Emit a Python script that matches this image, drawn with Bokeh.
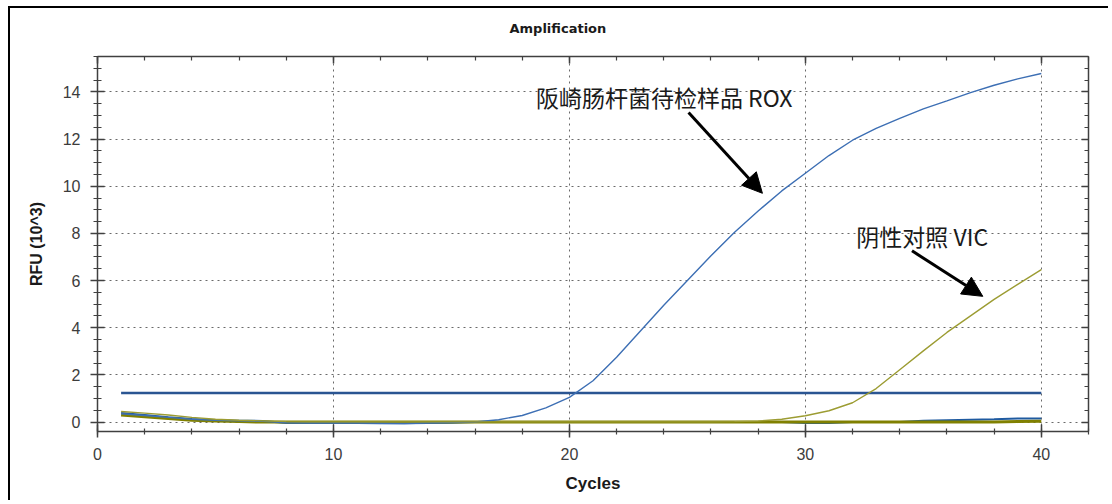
from bokeh.plotting import figure
from bokeh.models import (Range1d, LinearAxis, SingleIntervalTicker, Arrow, NormalHead,
                          Label, CustomLabelingPolicy)
from bokeh.embed import file_html
from bokeh.resources import INLINE

# ---- data ----
cycles = list(range(1, 41))

rox_sample = [0.35, 0.28, 0.20, 0.12, 0.08, 0.05, 0.03, -0.03, -0.04, -0.04,
              -0.04, -0.05, -0.06, -0.04, -0.02, 0.00, 0.10, 0.28, 0.60, 1.05,
              1.75, 2.75, 3.85, 4.95, 6.00, 7.05, 8.05, 8.95, 9.80, 10.55,
              11.30, 11.95, 12.45, 12.88, 13.28, 13.62, 13.97, 14.28, 14.55, 14.78]

vic_control = [0.45, 0.38, 0.30, 0.20, 0.12, 0.08, 0.05, 0.02, 0.01, 0.01,
               0.01, 0.01, 0.01, 0.01, 0.01, 0.01, 0.01, 0.01, 0.01, 0.01,
               0.01, 0.01, 0.01, 0.01, 0.01, 0.01, 0.02, 0.04, 0.12, 0.27,
               0.48, 0.82, 1.42, 2.22, 3.02, 3.80, 4.50, 5.20, 5.84, 6.46]

rox_baseline = [0.38, 0.30, 0.20, 0.13, 0.08, 0.06, 0.05, -0.04, -0.04, -0.04,
                -0.04, -0.05, -0.05, -0.04, -0.03, 0.00, 0.00, 0.00, 0.00, 0.00,
                0.00, 0.00, 0.00, 0.00, 0.00, 0.00, 0.00, 0.00, 0.00, -0.04,
                -0.04, 0.00, 0.00, 0.00, 0.06, 0.08, 0.10, 0.12, 0.15, 0.15]

vic_baseline = [0.30, 0.22, 0.15, 0.08, 0.04, 0.02, 0.00, 0.00, 0.00, 0.00,
                0.00, 0.00, 0.00, 0.00, 0.00, 0.00, 0.00, 0.00, 0.00, 0.00,
                0.00, 0.00, 0.00, 0.00, 0.00, 0.00, 0.00, 0.00, 0.00, 0.00,
                0.00, 0.00, 0.00, 0.00, 0.00, 0.00, 0.00, 0.00, 0.02, 0.03]

threshold_x = [1, 40]
threshold_y = [1.23, 1.23]

rox_label = "阪崎肠杆菌待检样品 ROX"
vic_label = "阴性对照 VIC"

# ---- figure ----
FONT = "Liberation Sans"
p = figure(width=1100, height=494, output_backend="svg", toolbar_location=None,
           x_range=Range1d(0, 42), y_range=Range1d(-0.4, 15.5),
           min_border_left=87, min_border_right=22, min_border_top=40, min_border_bottom=71,
           background_fill_color="white", border_fill_color="white")
p.outline_line_color = None
p.margin = (6, 0, 0, 8)
p.styles = {"border-top": "2px solid #000", "border-left": "2px solid #000"}

p.title.text = "Amplification"
p.title.text_font = "DejaVu Sans"
p.title.text_font_style = "bold"
p.title.text_font_size = "13px"
p.title.text_color = "#1a1a1a"
p.title.align = "left"
p.title.offset = 412
p.title.standoff = 20

xt = SingleIntervalTicker(interval=10, num_minor_ticks=5)
yt = SingleIntervalTicker(interval=2, num_minor_ticks=4)

def style_axis(ax, ticker, show_labels=True, inward_only=False):
    ax.ticker = ticker
    ax.axis_line_color = "#404040"
    ax.axis_line_width = 1.5
    ax.major_tick_line_color = "#404040"
    ax.minor_tick_line_color = "#404040"
    ax.major_tick_line_width = 1.5
    ax.minor_tick_line_width = 1.2
    if inward_only:
        ax.major_tick_in = 7
        ax.major_tick_out = 0
        ax.minor_tick_in = 4
        ax.minor_tick_out = 0
    if show_labels:
        ax.major_label_text_font = FONT
        ax.major_label_text_font_size = "16px"
        ax.major_label_text_color = "#3c3c3c"
    else:
        ax.major_label_policy = CustomLabelingPolicy(code="return []")
        ax.major_label_standoff = 0

xa = p.xaxis[0]
style_axis(xa, xt)
xa.major_tick_in = 7
xa.major_tick_out = 6
xa.minor_tick_in = 3
xa.minor_tick_out = 3
xa.major_label_standoff = 10
xa.axis_label = "Cycles"
xa.axis_label_text_font = FONT
xa.axis_label_text_font_style = "bold"
xa.axis_label_text_font_size = "17px"
xa.axis_label_text_color = "#1a1a1a"
xa.axis_label_standoff = 11

ya = p.yaxis[0]
style_axis(ya, yt)
ya.major_tick_in = 7
ya.major_tick_out = 7
ya.minor_tick_in = 4
ya.minor_tick_out = 4
ya.major_label_standoff = 10
ya.axis_label = "RFU (10^3)"
ya.axis_label_text_font = FONT
ya.axis_label_text_font_style = "bold"
ya.axis_label_text_font_size = "16px"
ya.axis_label_text_color = "#1a1a1a"
ya.axis_label_standoff = 15

top = LinearAxis()
style_axis(top, SingleIntervalTicker(interval=10, num_minor_ticks=5), show_labels=False, inward_only=True)
p.add_layout(top, "above")
right = LinearAxis()
style_axis(right, SingleIntervalTicker(interval=2, num_minor_ticks=4), show_labels=False, inward_only=True)
p.add_layout(right, "right")

p.xgrid.ticker = xt
p.ygrid.ticker = yt
for g in (p.xgrid, p.ygrid):
    g.grid_line_color = "#6a6a6a"
    g.grid_line_dash = "2 4"
    g.grid_line_width = 1

# ---- series ----
p.line(cycles, rox_baseline, line_color="#1f5aa0", line_width=2)
p.line(cycles, vic_baseline, line_color="#808000", line_width=3)
p.line(threshold_x, threshold_y, line_color="#2a5592", line_width=2.5)
p.line(cycles, rox_sample, line_color="#3d6fb4", line_width=1.4)
p.line(cycles, vic_control, line_color="#9c9c32", line_width=1.4)

# ---- annotations ----
p.add_layout(Label(x=18.58, y=13.8, text=rox_label, text_font="Noto Sans CJK SC",
                   text_font_size="23px", text_color="#1a1a1a", text_baseline="middle"))
p.add_layout(Label(x=32.16, y=7.91, text=vic_label, text_font="Noto Sans CJK SC",
                   text_font_size="23px", text_color="#1a1a1a", text_baseline="middle"))
p.add_layout(Arrow(end=NormalHead(size=20, fill_color="black", line_color="black"),
                   x_start=25.05, y_start=13.13, x_end=28.18, y_end=9.7,
                   line_color="black", line_width=3))
p.add_layout(Arrow(end=NormalHead(size=20, fill_color="black", line_color="black"),
                   x_start=34.52, y_start=7.26, x_end=37.52, y_end=5.33,
                   line_color="black", line_width=3))

open("out.html", "w").write(file_html(p, INLINE))
